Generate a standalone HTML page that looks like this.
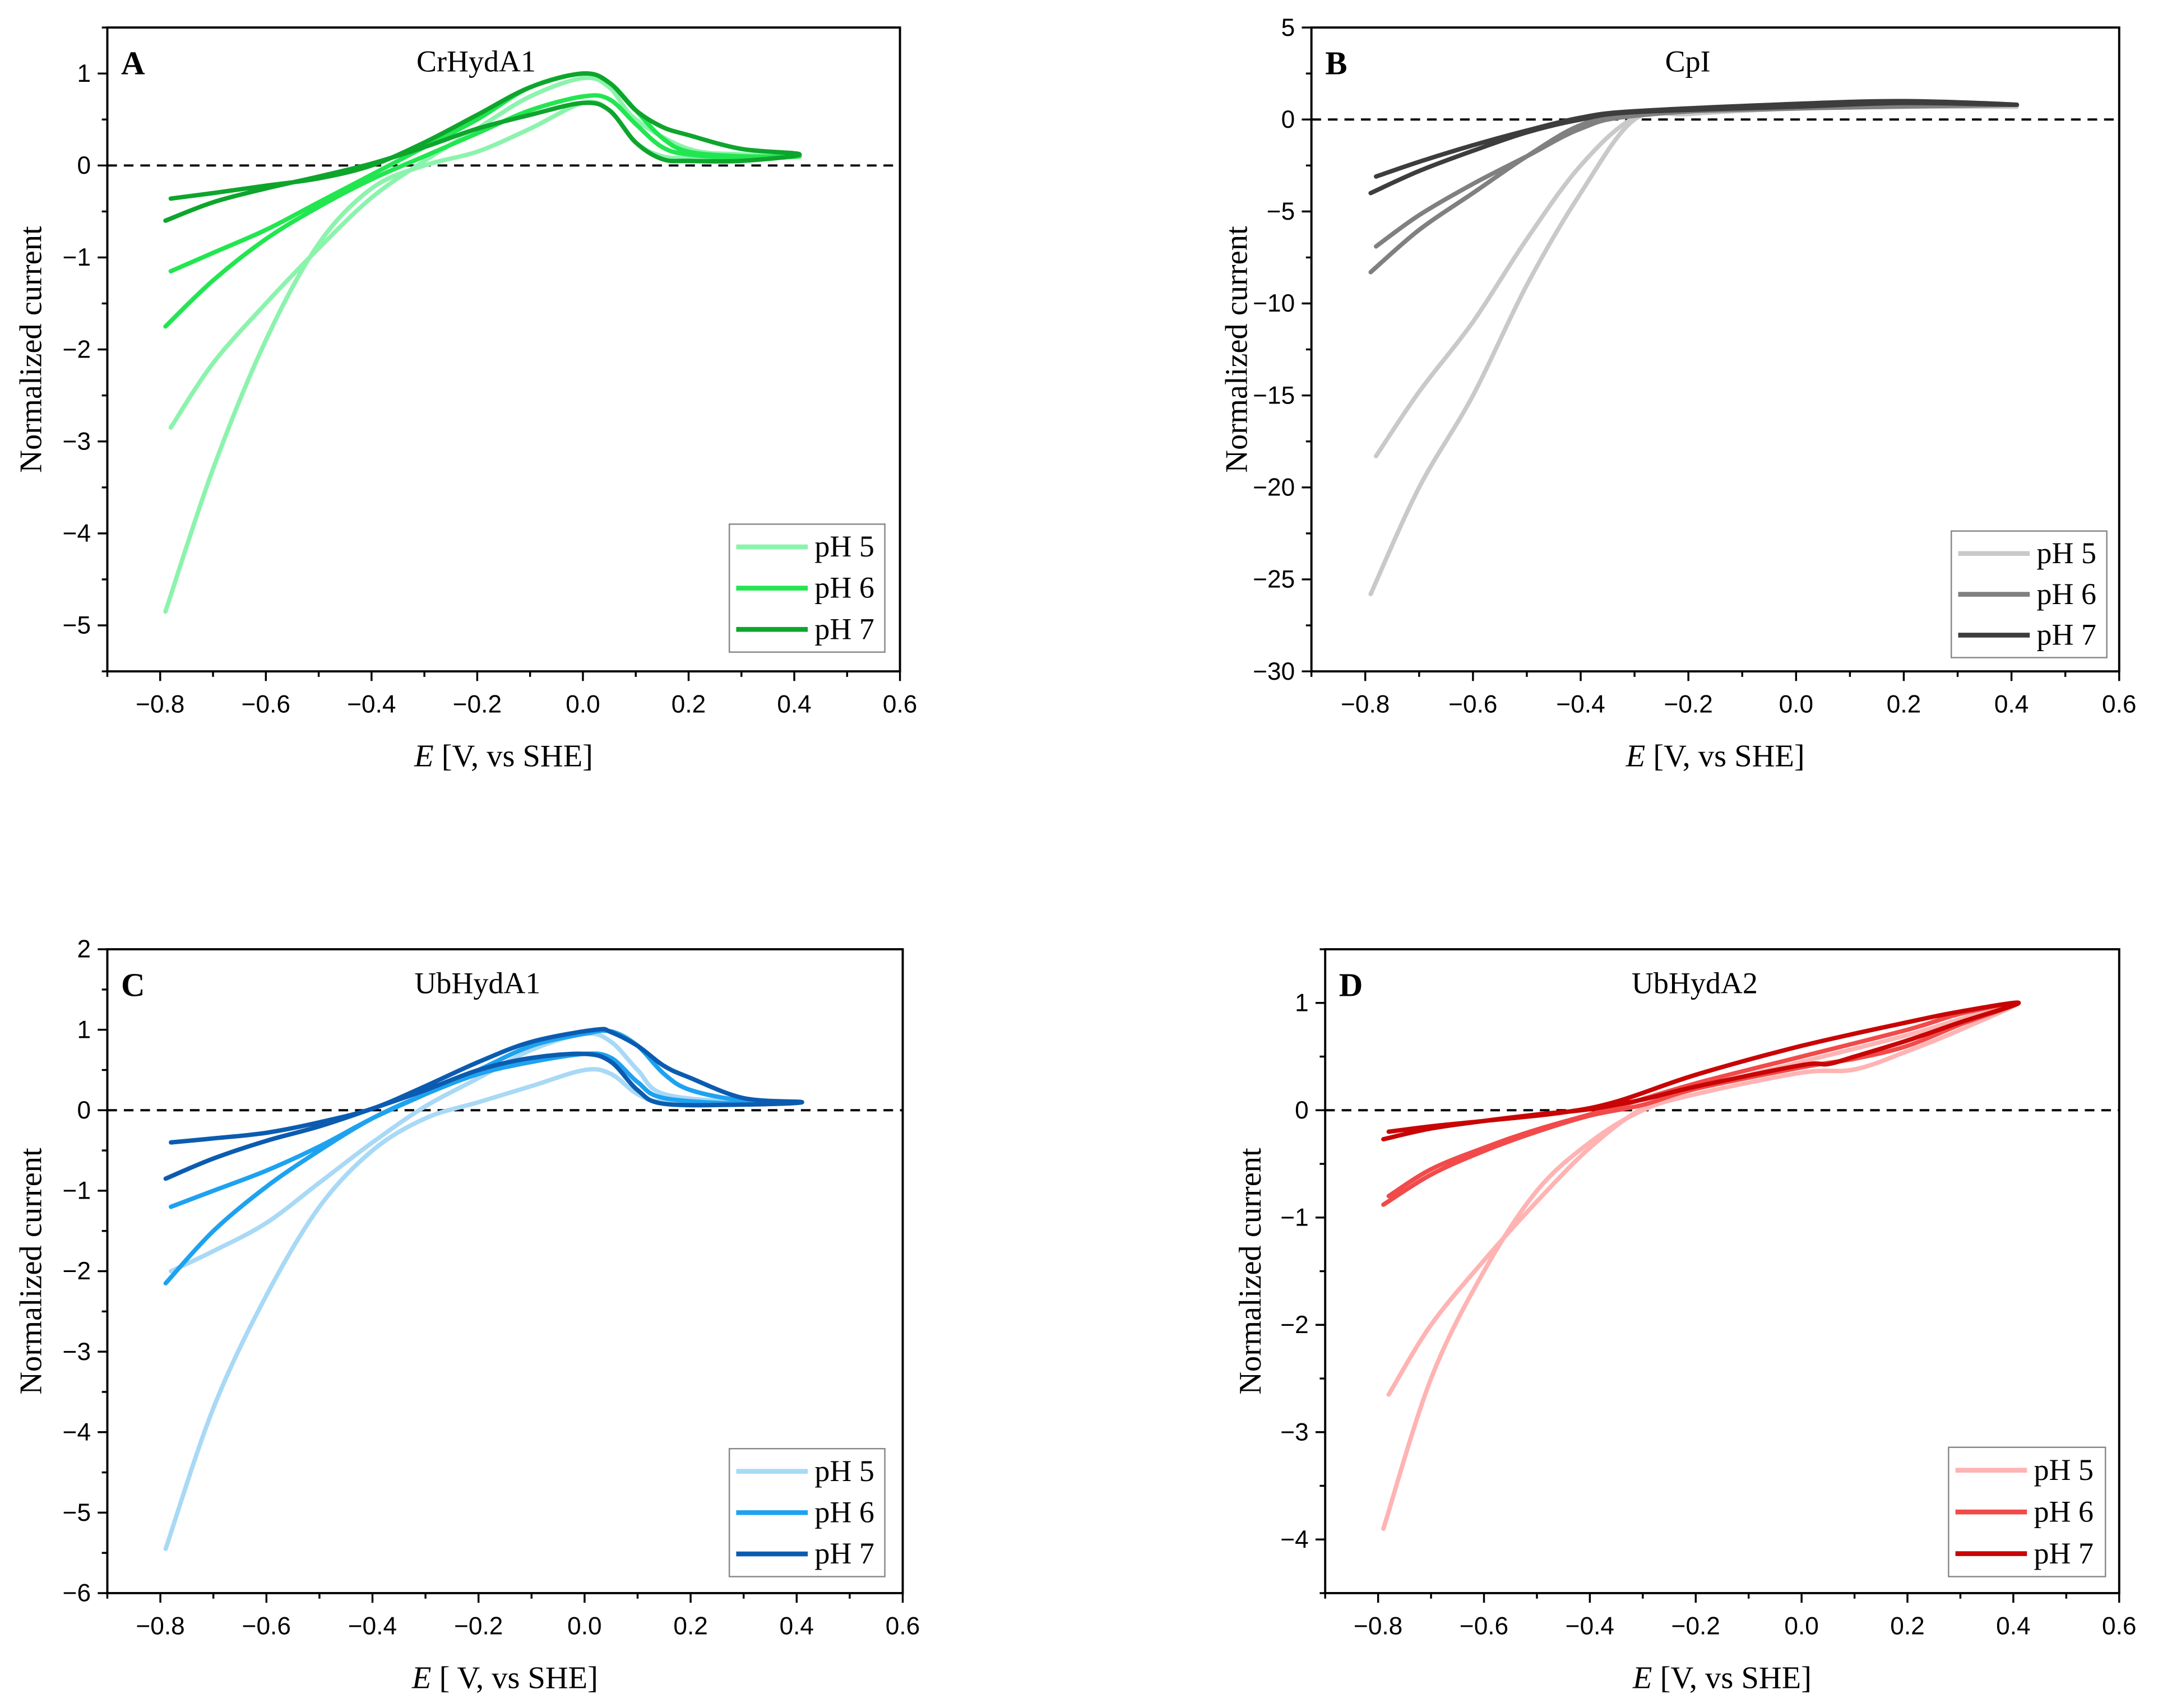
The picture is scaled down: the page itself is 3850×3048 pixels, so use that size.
<!DOCTYPE html>
<html><head><meta charset="utf-8"><style>
html,body{margin:0;padding:0;background:#fff}
svg{display:block}
</style></head><body>
<svg id="fig" xmlns="http://www.w3.org/2000/svg" width="3850" height="3048" viewBox="0 0 1568.2 1241.5" preserveAspectRatio="none"></svg>
<script>
// ---- data ----
const xTicks = [-0.8,-0.6,-0.4,-0.2,0.0,0.2,0.4,0.6];
const legendLabels = ["pH 5","pH 6","pH 7"];

// Panel A CrHydA1
const A_pH5_E = [-0.79,-0.7,-0.6,-0.5,-0.4,-0.3,-0.2,-0.1,0,0.05,0.1,0.15,0.2,0.3,0.41,0.3,0.2,0.1,0.05,0,-0.1,-0.2,-0.3,-0.4,-0.5,-0.6,-0.7,-0.78];
const A_pH5_I = [-4.85,-3.3,-1.9,-0.85,-0.25,0,0.15,0.4,0.68,0.6,0.25,0.1,0.08,0.07,0.1,0.12,0.18,0.5,0.85,0.95,0.75,0.4,0.05,-0.35,-0.9,-1.5,-2.15,-2.85];
const A_pH6_E = [-0.79,-0.7,-0.6,-0.5,-0.4,-0.3,-0.2,-0.1,0,0.05,0.1,0.15,0.2,0.3,0.41,0.3,0.2,0.15,0.1,0.05,0,-0.1,-0.2,-0.3,-0.4,-0.5,-0.6,-0.7,-0.78];
const A_pH6_I = [-1.75,-1.25,-0.8,-0.45,-0.15,0.1,0.35,0.6,0.75,0.72,0.45,0.2,0.12,0.08,0.1,0.1,0.15,0.3,0.6,0.9,1.0,0.85,0.5,0.2,-0.1,-0.4,-0.7,-0.95,-1.15];
const A_pH7_E = [-0.79,-0.7,-0.6,-0.5,-0.4,-0.3,-0.2,-0.1,0,0.05,0.1,0.15,0.2,0.3,0.41,0.3,0.2,0.15,0.1,0.05,0,-0.1,-0.2,-0.3,-0.4,-0.5,-0.6,-0.7,-0.78];
const A_pH7_I = [-0.6,-0.4,-0.25,-0.12,0.02,0.2,0.4,0.55,0.68,0.6,0.25,0.07,0.05,0.05,0.12,0.18,0.33,0.42,0.6,0.9,1.0,0.85,0.55,0.25,0.0,-0.14,-0.22,-0.3,-0.36];

// Panel B CpI
const B_pH5_E = [-0.79,-0.7,-0.6,-0.5,-0.4,-0.3,-0.2,0,0.2,0.41,0.2,0,-0.2,-0.3,-0.4,-0.5,-0.6,-0.7,-0.78];
const B_pH5_I = [-25.8,-20,-15,-9,-4,0,0.3,0.6,0.7,0.7,0.8,0.7,0.4,0.1,-2.5,-6.5,-11,-14.8,-18.3];
const B_pH6_E = [-0.79,-0.7,-0.6,-0.5,-0.4,-0.3,0,0.41,0,-0.3,-0.4,-0.5,-0.6,-0.7,-0.78];
const B_pH6_I = [-8.3,-6,-4,-2,-0.3,0.3,0.6,0.8,0.7,0.2,-0.5,-2,-3.5,-5.2,-6.9];
const B_pH7_E = [-0.79,-0.7,-0.6,-0.5,-0.4,-0.3,0,0.2,0.41,0.2,0,-0.3,-0.4,-0.5,-0.6,-0.7,-0.78];
const B_pH7_I = [-4,-2.8,-1.7,-0.7,0,0.4,0.7,0.9,0.8,1.0,0.85,0.45,0.1,-0.6,-1.4,-2.3,-3.1];

// Panel C UbHydA1
const C_pH5_E = [-0.79,-0.7,-0.6,-0.5,-0.4,-0.3,-0.2,-0.1,0,0.05,0.1,0.15,0.3,0.41,0.3,0.15,0.1,0.05,0,-0.1,-0.2,-0.3,-0.4,-0.5,-0.6,-0.7,-0.78];
const C_pH5_I = [-5.45,-3.7,-2.3,-1.2,-0.5,-0.1,0.1,0.3,0.5,0.45,0.2,0.1,0.08,0.1,0.1,0.2,0.5,0.85,0.95,0.75,0.4,0.05,-0.4,-0.9,-1.4,-1.75,-2.0];
const C_pH6_E = [-0.79,-0.7,-0.6,-0.5,-0.4,-0.3,-0.2,-0.1,0,0.05,0.1,0.15,0.3,0.41,0.3,0.2,0.15,0.1,0.05,0,-0.1,-0.2,-0.3,-0.4,-0.5,-0.6,-0.7,-0.78];
const C_pH6_I = [-2.15,-1.5,-0.95,-0.5,-0.1,0.2,0.45,0.6,0.7,0.65,0.35,0.15,0.08,0.1,0.12,0.25,0.45,0.8,0.98,0.95,0.8,0.5,0.2,-0.1,-0.45,-0.75,-1.0,-1.2];
const C_pH7_E = [-0.79,-0.7,-0.6,-0.5,-0.4,-0.3,-0.2,-0.1,0,0.05,0.1,0.15,0.3,0.41,0.3,0.2,0.15,0.1,0.05,0.02,-0.1,-0.2,-0.3,-0.4,-0.5,-0.6,-0.7,-0.78];
const C_pH7_I = [-0.85,-0.6,-0.38,-0.2,0.02,0.25,0.5,0.65,0.7,0.6,0.25,0.08,0.07,0.1,0.15,0.4,0.55,0.8,0.97,1.0,0.85,0.6,0.3,0.02,-0.15,-0.28,-0.35,-0.4];

// Panel D UbHydA2
const D_pH5_E = [-0.79,-0.7,-0.6,-0.5,-0.4,-0.3,-0.2,0,0.1,0.2,0.3,0.41,0.3,0.2,0,-0.2,-0.3,-0.4,-0.5,-0.6,-0.7,-0.78];
const D_pH5_I = [-3.9,-2.5,-1.5,-0.75,-0.3,0,0.15,0.35,0.38,0.55,0.75,1.0,0.85,0.7,0.45,0.2,0.02,-0.35,-0.85,-1.4,-2.0,-2.65];
const D_pH6_E = [-0.79,-0.7,-0.6,-0.5,-0.4,-0.3,-0.2,0,0.1,0.2,0.3,0.41,0.3,0.2,0,-0.2,-0.35,-0.5,-0.6,-0.7,-0.78];
const D_pH6_I = [-0.88,-0.6,-0.38,-0.2,-0.05,0.05,0.2,0.4,0.48,0.6,0.8,1.0,0.9,0.75,0.5,0.25,0.03,-0.18,-0.35,-0.55,-0.8];
const D_pH7_E = [-0.79,-0.7,-0.6,-0.5,-0.4,-0.3,-0.2,0,0.05,0.1,0.2,0.3,0.41,0.3,0.2,0,-0.2,-0.35,-0.45,-0.6,-0.7,-0.78];
const D_pH7_I = [-0.27,-0.17,-0.1,-0.04,0.01,0.1,0.22,0.42,0.43,0.5,0.65,0.82,1.0,0.92,0.82,0.6,0.33,0.08,-0.02,-0.1,-0.15,-0.2];

const yTicksA = [1,0,-1,-2,-3,-4,-5];
const yTicksB = [5,0,-5,-10,-15,-20,-25,-30];
const yTicksC = [2,1,0,-1,-2,-3,-4,-5,-6];
const yTicksD = [1,0,-1,-2,-3,-4];

const NS="http://www.w3.org/2000/svg";
const svg=document.getElementById('fig');
function mk(tag,attrs,parent){const e=document.createElementNS(NS,tag);for(const k in attrs)e.setAttribute(k,attrs[k]);(parent||svg).appendChild(e);return e;}
function smoothPath(P){
  let d='M'+P[0][0].toFixed(2)+','+P[0][1].toFixed(2);
  for(let i=0;i<P.length-1;i++){
    const p0=P[Math.max(0,i-1)],p1=P[i],p2=P[i+1],p3=P[Math.min(P.length-1,i+2)];
    const c1=[p1[0]+(p2[0]-p0[0])/6,p1[1]+(p2[1]-p0[1])/6];
    const c2=[p2[0]-(p3[0]-p1[0])/6,p2[1]-(p3[1]-p1[1])/6];
    d+=' C'+c1.map(v=>v.toFixed(2)).join(',')+' '+c2.map(v=>v.toFixed(2)).join(',')+' '+p2[0].toFixed(2)+','+p2[1].toFixed(2);
  }
  return d;
}

const panels=[
 {id:'a',letter:'A',title:'CrHydA1',L:78,R:654,T:20,B:488,ymin:-5.5,ymax:1.5,yt:yTicksA,minor:0.5,
  series:[[A_pH5_E,A_pH5_I],[A_pH6_E,A_pH6_I],[A_pH7_E,A_pH7_I]],colors:['#8cf3ad','#22e650','#0ea52c'],
  leg:[530,381,643,474],yt_x:22,xlab:'[V, vs SHE]'},
 {id:'b',letter:'B',title:'CpI',L:953,R:1540,T:20,B:488,ymin:-30,ymax:5,yt:yTicksB,minor:2.5,
  series:[[B_pH5_E,B_pH5_I],[B_pH6_E,B_pH6_I],[B_pH7_E,B_pH7_I]],colors:['#c9c9c9','#808080','#3d3d3d'],
  leg:[1418,386,1531,478],yt_x:898,xlab:'[V, vs SHE]'},
 {id:'c',letter:'C',title:'UbHydA1',L:78,R:656,T:690,B:1158,ymin:-6,ymax:2,yt:yTicksC,minor:0.5,
  series:[[C_pH5_E,C_pH5_I],[C_pH6_E,C_pH6_I],[C_pH7_E,C_pH7_I]],colors:['#a8d9f6','#1ea2f0','#0b5cb0'],
  leg:[530,1053,643,1146],yt_x:22,xlab:'[ V, vs SHE]'},
 {id:'d',letter:'D',title:'UbHydA2',L:963,R:1540,T:690,B:1158,ymin:-4.5,ymax:1.5,yt:yTicksD,minor:0.5,
  series:[[D_pH5_E,D_pH5_I],[D_pH6_E,D_pH6_I],[D_pH7_E,D_pH7_I]],colors:['#ffb3b3','#f24a4a','#c80404'],
  leg:[1416,1052,1530,1146],yt_x:908,xlab:'[V, vs SHE]'}
];

panels.forEach(p=>{
  const g=mk('g',{});
  
  
  const xs=v=>p.L+(v+0.9)/1.5*(p.R-p.L);
  const ys=v=>p.B-(v-p.ymin)/(p.ymax-p.ymin)*(p.B-p.T);
  const z=mk('line',{x1:p.L,x2:p.R,y1:ys(0),y2:ys(0),stroke:'#000','stroke-width':1.6,'stroke-dasharray':'7,5'},g);
  
  
  p.series.forEach((s,i)=>{
    const P=s[0].map((e,k)=>[xs(e),ys(s[1][k])]);
    const pl=mk('path',{d:smoothPath(P),fill:'none',stroke:p.colors[i],'stroke-width':3.2,'stroke-linejoin':'round','stroke-linecap':'round'},g);
    
    
  });
  const fr=mk('rect',{x:p.L,y:p.T,width:p.R-p.L,height:p.B-p.T,fill:'none',stroke:'#000','stroke-width':1.6},g);
  
  
  for(let v=-0.9;v<=0.6001;v+=0.1){
    const x=xs(v);
    const major=Math.abs(Math.round(v*10)%2)===0;
    mk('line',{x1:x,x2:x,y1:p.B,y2:p.B+(major?7:4),stroke:'#000','stroke-width':1.4},g);
  }
  xTicks.forEach(v=>{
    const t=mk('text',{x:xs(v),y:p.B+30,'text-anchor':'middle','font-family':'Liberation Sans, sans-serif','font-size':18},g);
    t.textContent=(v<0?'\u2212':'')+Math.abs(v).toFixed(1);
    
    
  });
  for(let v=p.ymin;v<=p.ymax+1e-9;v+=p.minor){
    const major=p.yt.some(t=>Math.abs(t-v)<1e-9);
    mk('line',{x1:p.L,x2:p.L-(major?7:4),y1:ys(v),y2:ys(v),stroke:'#000','stroke-width':1.4},g);
  }
  p.yt.forEach(v=>{
    const t=mk('text',{x:p.L-12,y:ys(v)+6,'text-anchor':'end','font-family':'Liberation Sans, sans-serif','font-size':18},g);
    t.textContent=(v<0?'\u2212':'')+Math.abs(v);
    
    
  });
  const yt=mk('text',{x:0,y:0,'text-anchor':'middle','font-family':'Liberation Serif, serif','font-size':23,transform:`translate(${p.yt_x+8},${(p.T+p.B)/2}) rotate(-90)`},g);
  yt.textContent='Normalized current';
  
  
  const xt=mk('text',{x:(p.L+p.R)/2,y:p.B+69,'text-anchor':'middle','font-family':'Liberation Serif, serif','font-size':23},g);
  xt.innerHTML='<tspan font-style="italic">E</tspan> '+p.xlab;
  
  
  const lt=mk('text',{x:p.L+10,y:p.T+34,'font-family':'Liberation Serif, serif','font-size':24,'font-weight':'bold'},g);
  lt.textContent=p.letter;
  
  
  const tt=mk('text',{x:(p.L+p.R)/2-20,y:p.T+32,'text-anchor':'middle','font-family':'Liberation Serif, serif','font-size':22},g);
  tt.textContent=p.title;
  
  
  const [lx1,ly1,lx2,ly2]=p.leg;
  const lg=mk('g',{},g);
  
  
  mk('rect',{x:lx1,y:ly1,width:lx2-lx1,height:ly2-ly1,fill:'#fff',stroke:'#888','stroke-width':1},lg);
  const step=(ly2-ly1)/3.1;
  legendLabels.forEach((lab,i)=>{
    const yy=ly1+step*(i+0.55);
    const ln=mk('line',{x1:lx1+5,x2:lx1+57,y1:yy,y2:yy,stroke:p.colors[i],'stroke-width':3.5},lg);
    
    
    const t=mk('text',{x:lx1+62,y:yy+7,'font-family':'Liberation Serif, serif','font-size':22},lg);
    t.textContent=lab;
    
    
  });
});
</script>
</body></html>
